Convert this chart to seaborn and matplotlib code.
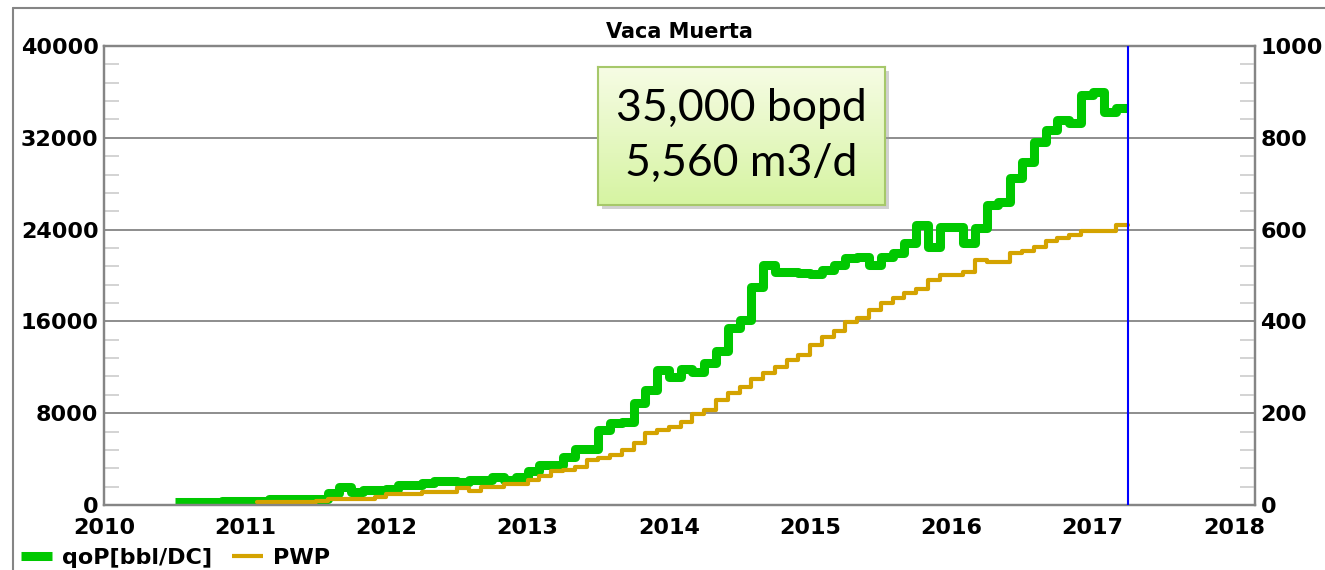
import numpy as np
import pandas as pd
import matplotlib
matplotlib.use("Agg")
import matplotlib.pyplot as plt
import seaborn as sns
from matplotlib.lines import Line2D
from matplotlib.patches import Rectangle
from matplotlib.ticker import MultipleLocator

# monthly oil rate, bbl per calendar day, from Jul 2010
qop_start = 2010.5
qop = [250, 250, 250, 250, 370, 370,
       370, 370, 550, 550, 550, 550, 550, 1020, 1600, 1160, 1300, 1350,
       1400, 1740, 1750, 1890, 2090, 2090, 1980, 2200, 2200, 2470, 2180, 2470,
       3000, 3490, 3490, 4210, 4850, 4850, 6540, 7120, 7260, 8860, 10020, 11770,
       11180, 11830, 11620, 12350, 13400, 15400, 16120, 19030, 20920, 20330, 20330, 20190,
       20100, 20480, 20920, 21500, 21640, 20920, 21640, 21930, 22810, 24400, 22510, 24250,
       24250, 22810, 24110, 26150, 26430, 28470, 29920, 31660, 32680, 33550, 33260, 35730,
       36020, 34280, 34570]

# producing wells, from Feb 2011
pwp_start = 2011 + 1 / 12
pwp = [6, 6, 6, 6, 6, 9, 12, 12, 12, 12, 18,
       24, 24, 24, 29, 29, 29, 36, 31, 40, 40, 46, 46,
       54, 63, 73, 76, 83, 97, 102, 109, 120, 134, 156, 163,
       171, 181, 198, 207, 229, 243, 258, 274, 288, 300, 316, 327,
       349, 367, 378, 399, 407, 425, 439, 450, 461, 471, 490, 501,
       501, 508, 534, 530, 530, 548, 554, 563, 576, 581, 588, 598,
       598, 598, 610]

end_date = 2017.25
years = list(range(2010, 2019))
left_ticks = [0, 8000, 16000, 24000, 32000, 40000]
right_ticks = [0, 200, 400, 600, 800, 1000]

green = "#00c800"
gold = "#d4a300"
grey = "#858585"


def monthly(start, vals, end):
    t = [start + i / 12 for i in range(len(vals))] + [end]
    return pd.DataFrame({"t": t, "v": list(vals) + [vals[-1]]})


df_q = monthly(qop_start, qop, end_date)
df_w = monthly(pwp_start, pwp, end_date)

sns.set_theme(style="white")
plt.rcParams["font.family"] = ["DejaVu Sans"]
plt.rcParams["text.color"] = "black"

W, H = 1325, 570
fig = plt.figure(figsize=(W / 100, H / 100), dpi=100)
ax = fig.add_axes([104 / W, 65 / H, 1151 / W, 459 / H])

sns.lineplot(data=df_q, x="t", y="v", ax=ax, color=green, lw=6.5,
             drawstyle="steps-post", errorbar=None, legend=False,
             solid_joinstyle="round", solid_capstyle="butt")
ax2 = ax.twinx()
sns.lineplot(data=df_w, x="t", y="v", ax=ax2, color=gold, lw=3,
             drawstyle="steps-post", errorbar=None, legend=False)
ax2.axvline(end_date, color="#0000ff", lw=1.5, zorder=5)

ax.set_xlim(2010, 2018.15)
ax.set_ylim(0, 40000)
ax2.set_ylim(0, 1000)
ax.set_xlabel("")
ax.set_ylabel("")
ax2.set_ylabel("")

ax.set_xticks(years)
ax.set_xticklabels([str(y) for y in years])
ax.set_yticks(left_ticks)
ax.set_yticklabels([str(v) for v in left_ticks])
ax2.set_yticks(right_ticks)
ax2.set_yticklabels([str(v) for v in right_ticks])
ax.yaxis.set_minor_locator(MultipleLocator(1600))
ax2.yaxis.set_minor_locator(MultipleLocator(40))

lab = dict(labelsize=16, labelcolor="black")
ax.tick_params(axis="x", which="major", direction="in", length=11, width=1.2,
               color="#c8c8c8", pad=9, **lab)
ax.tick_params(axis="y", which="major", length=0, pad=4, **lab)
ax.tick_params(axis="y", which="minor", direction="in", length=11, width=1.2,
               color="#cccccc", left=True)
ax2.tick_params(axis="y", which="major", length=0, pad=4, **lab)
ax2.tick_params(axis="y", which="minor", direction="in", length=11, width=1.2,
                color="#cccccc", right=True)
for a in (ax, ax2):
    for t in a.get_xticklabels() + a.get_yticklabels():
        t.set_fontweight("bold")
    for s in a.spines.values():
        s.set_color(grey)
        s.set_linewidth(1.6)

ax.yaxis.grid(True, color=grey, lw=1.3)
ax.xaxis.grid(False)
ax.set_title("Vaca Muerta", fontsize=15, fontweight="bold", color="black", pad=6)

# outer frame
fig.add_artist(Line2D([13 / W, 1], [1 - 8 / H, 1 - 8 / H], color=grey, lw=1.5))
fig.add_artist(Line2D([13 / W, 13 / W], [0, 1 - 8 / H], color=grey, lw=1.5))

# callout box with gradient
bx, by, bw, bh = 598 / W, (H - 205) / H, 287 / W, 138 / H
fig.add_artist(Rectangle((bx + 4 / W, by - 4 / H), bw, bh, transform=fig.transFigure,
                         color="#9a9a9a", alpha=0.45, lw=0, zorder=8))
box = fig.add_axes([bx, by, bw, bh], zorder=10)
top = np.array([246, 252, 228]) / 255
bot = np.array([214, 244, 162]) / 255
grad = np.linspace(0, 1, 100)[:, None, None] * (bot - top) + top
box.imshow(np.repeat(grad, 2, axis=1), aspect="auto", extent=(0, 1, 0, 1))
box.set_xticks([])
box.set_yticks([])
for s in box.spines.values():
    s.set_color("#a6c86a")
    s.set_linewidth(1.5)
box.text(0.5, 0.5, "35,000 bopd\n5,560 m3/d", ha="center", va="center",
         fontsize=32, family="Lato", color="black", linespacing=1.4,
         transform=box.transAxes)

handles = [Line2D([], [], color=green, lw=6.5, solid_capstyle="butt"),
           Line2D([], [], color=gold, lw=3, solid_capstyle="butt")]
fig.legend(handles=handles, labels=["qoP[bbl/DC]", "PWP"], loc="center left",
           bbox_to_anchor=(21 / W, 12 / H), ncol=2, frameon=False,
           prop={"weight": "bold", "size": 16}, handlelength=1.4,
           handletextpad=0.45, columnspacing=0.9, borderpad=0, borderaxespad=0)

fig.savefig("out.png", dpi=100)
